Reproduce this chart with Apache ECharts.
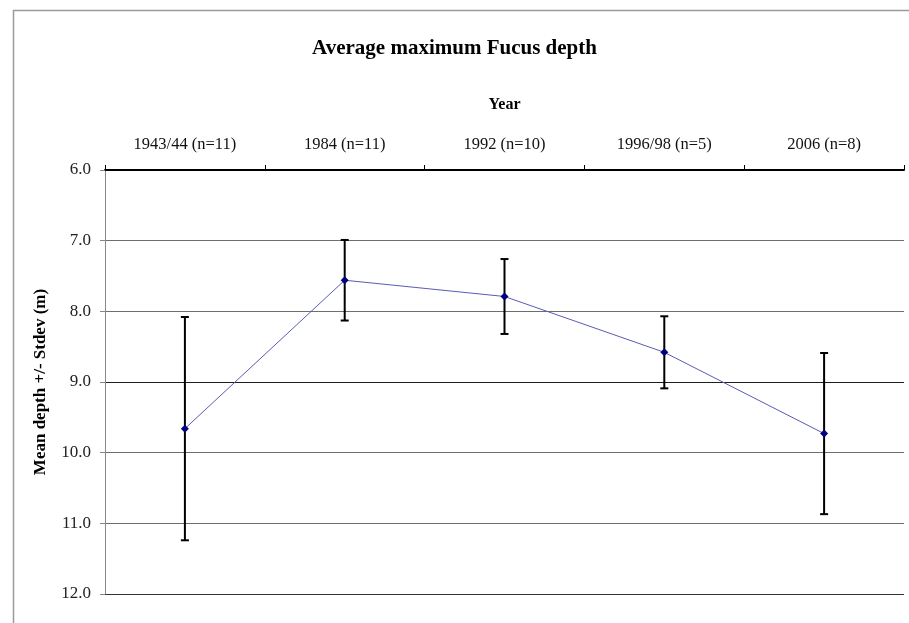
<!DOCTYPE html>
<html>
<head>
<meta charset="utf-8">
<script src="https://cdn.jsdelivr.net/npm/echarts@6/dist/echarts.min.js"></script>
<style>html,body{margin:0;padding:0;background:#fff;}#c{width:909px;height:623px;}</style>
</head>
<body>
<div id="c"></div>
<script>
const categories = ['1943/44 (n=11)', '1984 (n=11)', '1992 (n=10)', '1996/98 (n=5)', '2006 (n=8)'];
const meanDepth = [9.66, 7.56, 7.79, 8.58, 9.73];
const stdev = [1.58, 0.57, 0.53, 0.51, 1.14];
const yTicks = [6, 7, 8, 9, 10, 11, 12];

const chart = echarts.init(document.getElementById('c'));
const serif = '"Liberation Serif", "DejaVu Serif", serif';
const errData = categories.map((c, i) => [i, meanDepth[i] - stdev[i], meanDepth[i] + stdev[i]]);

chart.setOption({
  animation: false,
  backgroundColor: '#fff',
  graphic: [{
    type: 'rect', left: 11, top: 8, silent: true,
    shape: { width: 920, height: 640 },
    style: { fill: 'none', stroke: '#9a9a9a', lineWidth: 1.5 }
  }],
  title: {
    text: 'Average maximum Fucus depth',
    left: 'center', top: 33,
    textStyle: { fontFamily: serif, fontSize: 21, fontWeight: 'bold', color: '#000' }
  },
  grid: { left: 105, right: 5, top: 170, bottom: 29 },
  xAxis: {
    type: 'category',
    position: 'top',
    data: categories,
    boundaryGap: true,
    name: 'Year',
    nameLocation: 'middle',
    nameGap: 57,
    nameTextStyle: { fontFamily: serif, fontSize: 16, fontWeight: 'bold', color: '#000' },
    axisLine: { lineStyle: { color: '#000', width: 2 } },
    axisTick: { show: true, alignWithLabel: false, length: 5, lineStyle: { color: '#000', width: 1 } },
    axisLabel: { fontFamily: serif, fontSize: 16.5, color: '#111', margin: 17 },
    splitLine: { show: false }
  },
  yAxis: {
    type: 'value',
    inverse: true,
    min: yTicks[0],
    max: yTicks[yTicks.length - 1],
    interval: 1,
    name: 'Mean depth +/- Stdev (m)',
    nameLocation: 'middle',
    nameGap: 56,
    nameTextStyle: { fontFamily: serif, fontSize: 17, fontWeight: 'bold', color: '#000' },
    axisLine: { show: true, lineStyle: { color: '#888', width: 1 } },
    axisTick: { show: true, length: 5, lineStyle: { color: '#888' } },
    axisLabel: {
      fontFamily: serif, fontSize: 17, color: '#222', margin: 14,
      formatter: v => v.toFixed(1)
    },
    splitLine: {
      show: true,
      lineStyle: { color: ['#000', '#6e6e6e', '#6e6e6e', '#1e1e1e', '#6e6e6e', '#6e6e6e', '#333'], width: 1.2 }
    }
  },
  series: [
    {
      type: 'custom',
      name: 'stdev',
      data: errData,
      z: 3,
      renderItem: function (params, api) {
        const x = api.value(0);
        const lo = api.coord([x, api.value(1)]);
        const hi = api.coord([x, api.value(2)]);
        const hw = 4;
        const st = { stroke: '#000', lineWidth: 2 };
        return {
          type: 'group',
          children: [
            { type: 'line', shape: { x1: lo[0], y1: lo[1], x2: hi[0], y2: hi[1] }, style: st },
            { type: 'line', shape: { x1: lo[0] - hw, y1: lo[1], x2: lo[0] + hw, y2: lo[1] }, style: st },
            { type: 'line', shape: { x1: hi[0] - hw, y1: hi[1], x2: hi[0] + hw, y2: hi[1] }, style: st }
          ]
        };
      }
    },
    {
      type: 'line',
      name: 'mean',
      data: meanDepth,
      z: 4,
      symbol: 'diamond',
      symbolSize: 8,
      lineStyle: { color: '#5a5ab8', width: 1 },
      itemStyle: { color: '#000080' }
    }
  ]
});
</script>
</body>
</html>
